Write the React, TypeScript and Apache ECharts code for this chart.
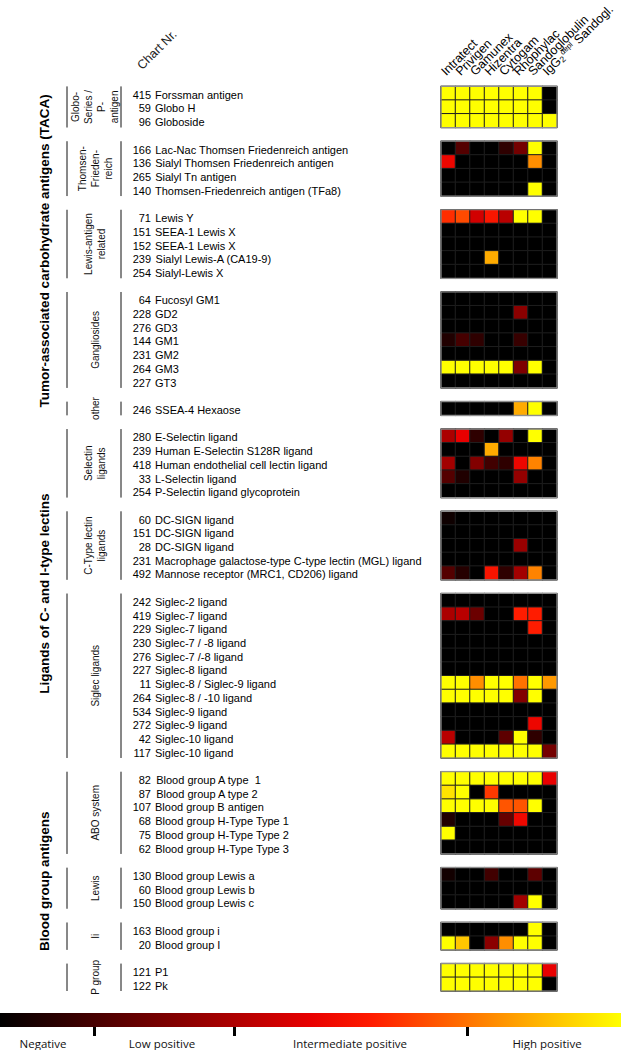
import { useEffect, useRef } from 'react';
import * as echarts from 'echarts';

const antibodies = ['Intratect', 'Privigen', 'Gamunex', 'Hizentra', 'Cytogam', 'Rhophylac', 'Sandoglobulin', 'IgG2 depl Sandogl.'];

const chartNr = [
  415, 59, 96,
  166, 136, 265, 140,
  71, 151, 152, 239, 254,
  64, 228, 276, 144, 231, 264, 227,
  246,
  280, 239, 418, 33, 254,
  60, 151, 28, 231, 492,
  242, 419, 229, 230, 276, 227, 11, 264, 534, 272, 42, 117,
  82, 87, 107, 68, 75, 62,
  130, 60, 150,
  163, 20,
  121, 122,
];

const antigenNames = [
  'Forssman antigen', 'Globo H', 'Globoside',
  'Lac-Nac Thomsen Friedenreich antigen', 'Sialyl Thomsen Friedenreich antigen', 'Sialyl Tn antigen', 'Thomsen-Friedenreich antigen (TFa8)',
  'Lewis Y', 'SEEA-1 Lewis X', 'SEEA-1 Lewis X', 'Sialyl Lewis-A (CA19-9)', 'Sialyl-Lewis X',
  'Fucosyl GM1', 'GD2', 'GD3', 'GM1', 'GM2', 'GM3', 'GT3',
  'SSEA-4 Hexaose',
  'E-Selectin ligand', 'Human E-Selectin S128R ligand', 'Human endothelial cell lectin ligand', 'L-Selectin ligand', 'P-Selectin ligand glycoprotein',
  'DC-SIGN ligand', 'DC-SIGN ligand', 'DC-SIGN ligand', 'Macrophage galactose-type C-type lectin (MGL) ligand', 'Mannose receptor (MRC1, CD206) ligand',
  'Siglec-2 ligand', 'Siglec-7 ligand', 'Siglec-7 ligand', 'Siglec-7 / -8 ligand', 'Siglec-7 /-8 ligand', 'Siglec-8 ligand', 'Siglec-8 / Siglec-9 ligand', 'Siglec-8 / -10 ligand', 'Siglec-9 ligand', 'Siglec-9 ligand', 'Siglec-10 ligand', 'Siglec-10 ligand',
  'Blood group A type  1', 'Blood group A type 2', 'Blood group B antigen', 'Blood group H-Type Type 1', 'Blood group H-Type Type 2', 'Blood group H-Type Type 3',
  'Blood group Lewis a', 'Blood group Lewis b', 'Blood group Lewis c',
  'Blood group i', 'Blood group I',
  'P1', 'Pk',
];

const subgroupSizes = [3, 4, 5, 7, 1, 5, 5, 12, 6, 3, 2, 2];
const subgroupLabels = [
  'Globo-\nSeries /\nP-\nantigen', 'Thomsen-\nFrieden-\nreich', 'Lewis-antigen\nrelated', 'Gangliosides', 'other',
  'Selectin\nligands', 'C-Type lectin\nligands', 'Siglec ligands',
  'ABO system', 'Lewis', 'Ii', 'P group',
];
const mainGroupLabels = ['Tumor-associated carbohydrate antigens (TACA)', 'Ligands of C- and I-type lectins', 'Blood group antigens'];
const mainGroupSpans = [5, 3, 4];

// reactivity 0 (negative) .. 1 (high positive), columns in antibody order
const reactivity = [
  [1, 1, 1, 1, 1, 1, 1, 0],
  [1, 1, 1, 1, 1, 1, 1, 0],
  [1, 1, 1, 1, 1, 1, 1, 1],

  [0, 0.18, 0, 0, 0.1, 0.25, 1, 0],
  [0.52, 0, 0, 0, 0, 0, 0.8, 0],
  [0, 0, 0, 0, 0, 0, 0, 0],
  [0, 0, 0, 0, 0, 0, 1, 0],

  [0.63, 0.68, 0.45, 0.58, 0.4, 1, 1, 0],
  [0, 0, 0, 0, 0, 0, 0, 0],
  [0, 0, 0, 0, 0, 0, 0, 0],
  [0, 0, 0, 0.85, 0, 0, 0, 0],
  [0, 0, 0, 0, 0, 0, 0, 0],

  [0, 0, 0, 0, 0, 0, 0, 0],
  [0, 0, 0, 0, 0, 0.3, 0, 0],
  [0, 0, 0, 0, 0, 0, 0, 0],
  [0.07, 0.15, 0.1, 0, 0, 0.12, 0, 0],
  [0, 0, 0, 0, 0, 0, 0, 0],
  [1, 1, 1, 1, 1, 0.27, 1, 0],
  [0, 0, 0, 0, 0, 0, 0, 0],

  [0, 0, 0, 0, 0, 0.85, 1, 0],

  [0.37, 0.5, 0.1, 0, 0.32, 0, 1, 0],
  [0, 0, 0, 0.85, 0, 0, 0, 0],
  [0.35, 0, 0.28, 0.14, 0.1, 0.52, 0.78, 0],
  [0.18, 0.07, 0, 0, 0, 0.32, 0, 0],
  [0, 0, 0, 0, 0, 0, 0, 0],

  [0.03, 0, 0, 0, 0, 0, 0, 0],
  [0, 0, 0, 0, 0, 0, 0, 0],
  [0, 0, 0, 0, 0, 0.33, 0, 0],
  [0, 0, 0, 0, 0, 0, 0, 0],
  [0.18, 0.08, 0, 0.57, 0.1, 0.35, 0.78, 0],

  [0, 0, 0, 0, 0, 0, 0, 0],
  [0.37, 0.4, 0.23, 0, 0, 0.6, 0.6, 0],
  [0, 0, 0, 0, 0, 0, 0.6, 0],
  [0, 0, 0, 0, 0, 0, 0, 0],
  [0, 0, 0, 0, 0, 0, 0, 0],
  [0, 0, 0, 0, 0, 0, 0, 0],
  [1, 1, 0.8, 1, 1, 0.75, 1, 0.82],
  [1, 1, 1, 1, 1, 0.28, 1, 0],
  [0, 0, 0, 0, 0, 0, 0, 0],
  [0, 0, 0, 0, 0, 0, 0.52, 0],
  [0.4, 0, 0, 0, 0.2, 1, 0.1, 0],
  [1, 1, 1, 1, 1, 1, 1, 0.25],

  [1, 1, 1, 1, 1, 1, 1, 0.5],
  [0.95, 1, 0, 0.65, 0, 0, 0, 0],
  [1, 1, 1, 1, 0.7, 0.7, 1, 0],
  [0.07, 0, 0, 0, 0.22, 0.53, 0, 0],
  [1, 0, 0, 0, 0, 0, 0, 0],
  [0, 0, 0, 0, 0, 0, 0, 0],

  [0.04, 0, 0, 0.14, 0, 0, 0.2, 0],
  [0, 0, 0, 0, 0, 0, 0, 0],
  [0, 0, 0, 0, 0, 0.35, 1, 0],

  [0, 0, 0, 0, 0, 0, 1, 0],
  [1, 0.9, 0, 0.3, 0.8, 1, 1, 0],

  [1, 1, 1, 1, 1, 1, 1, 0.5],
  [1, 1, 1, 1, 1, 1, 1, 0],
];

const heatColors = ['#000000', '#2e0000', '#5d0000', '#8b0000', '#b90000', '#e80000', '#ff1c00', '#ff5500', '#ff8e00', '#ffc700', '#ffff00'];
const legendLabels = ['Negative', 'Low positive', 'Intermediate positive', 'High positive'];

const FONT = '"Liberation Sans", Arial, sans-serif';

export default function App() {
  const ref = useRef<HTMLDivElement>(null);

  useEffect(() => {
    document.body.style.margin = '0';
    const chart = echarts.init(ref.current!, null, { renderer: 'svg' });

    const yCats: string[] = [];
    const rowNr: (number | null)[] = [];
    const rowName: string[] = [];
    const heatData: number[][] = [];
    const subRanges: number[][] = [];
    let k = 0;
    subgroupSizes.forEach((n, g) => {
      const start = yCats.length;
      for (let i = 0; i < n; i++) {
        const r = yCats.length;
        yCats.push(`${chartNr[k]} ${antigenNames[k]}`);
        rowNr.push(chartNr[k]);
        rowName.push(antigenNames[k]);
        reactivity[k].forEach((v, c) => heatData.push([c, r, v]));
        k++;
      }
      subRanges.push([0, start, yCats.length - 1, g]);
      if (g < subgroupSizes.length - 1) {
        yCats.push(`gap${g}`);
        rowNr.push(null);
        rowName.push('');
      }
    });
    const mainRanges: number[][] = [];
    let s = 0;
    mainGroupSpans.forEach((n, m) => {
      mainRanges.push([0, subRanges[s][1], subRanges[s + n - 1][2], m]);
      s += n;
    });

    const nCols = antibodies.length;

    chart.setOption({
      animation: false,
      grid: { left: 441, top: 82, width: 116, height: 909 },
      xAxis: {
        type: 'category',
        data: antibodies,
        position: 'top',
        axisLine: { show: false },
        axisTick: { show: false },
        splitLine: { show: false },
        axisLabel: {
          interval: 0,
          rotate: -45,
          margin: 8,
          align: 'left',
          verticalAlign: 'bottom',
          lineHeight: 14,
          formatter: (v: string) =>
            v.startsWith('IgG2') ? '{a|IgG}{sub|2}{sup|depl}{a| Sandogl.}' : `{a|${v}}`,
          rich: {
            a: { fontSize: 12.5, fontFamily: FONT, color: '#000' },
            sub: { fontSize: 8.5, fontFamily: FONT, color: '#000', padding: [5, 0, 0, 0] },
            sup: { fontSize: 7.5, fontFamily: FONT, color: '#000', padding: [0, 1, 5, 1] },
          },
        },
      },
      yAxis: {
        type: 'category',
        data: yCats,
        inverse: true,
        axisLine: { show: false },
        axisTick: { show: false },
        splitLine: { show: false },
        axisLabel: {
          interval: 0,
          align: 'left',
          margin: 310,
          formatter: (_v: string, i: number) => (rowNr[i] == null ? '' : `{n|${rowNr[i]}}{t|${rowName[i]}}`),
          rich: {
            n: { width: 20, align: 'right', padding: [3, 0, 0, 0], fontSize: 11, fontFamily: FONT, color: '#000' },
            t: { align: 'right', padding: [3, 0, 0, 4], fontSize: 11, fontFamily: FONT, color: '#000' },
          },
        },
      },
      visualMap: {
        show: false,
        type: 'continuous',
        min: 0,
        max: 1,
        seriesIndex: 0,
        inRange: { color: heatColors },
      },
      series: [
        {
          type: 'heatmap',
          data: heatData,
          silent: true,
          itemStyle: { borderColor: '#1e1e1e', borderWidth: 1 },
          emphasis: { disabled: true },
        },
        {
          type: 'custom',
          silent: true,
          z: 5,
          data: subRanges,
          encode: { x: 0, y: [1, 2] },
          renderItem: (_p: any, api: any) => {
            const st = api.value(1);
            const en = api.value(2);
            const g = api.value(3);
            const c0 = api.coord([0, st]);
            const c1 = api.coord([0, en]);
            const sz = api.size([1, 1]);
            const x0 = c0[0] - sz[0] / 2;
            const y0 = c0[1] - sz[1] / 2;
            const y1 = c1[1] + sz[1] / 2;
            return {
              type: 'group',
              children: [
                {
                  type: 'rect',
                  shape: { x: x0, y: y0, width: sz[0] * nCols, height: y1 - y0 },
                  style: { fill: 'none', stroke: '#8f8f8f', lineWidth: 1.2 },
                },
                { type: 'line', shape: { x1: 67, y1: y0, x2: 67, y2: y1 }, style: { stroke: '#111', lineWidth: 1 } },
                { type: 'line', shape: { x1: 121, y1: y0, x2: 121, y2: y1 }, style: { stroke: '#111', lineWidth: 1 } },
                {
                  type: 'text',
                  x: 95,
                  y: (y0 + y1) / 2,
                  rotation: Math.PI / 2,
                  style: {
                    text: subgroupLabels[g],
                    align: 'center',
                    verticalAlign: 'middle',
                    font: `10px ${FONT}`,
                    lineHeight: 13,
                    fill: '#111',
                  },
                },
              ],
            };
          },
        },
        {
          type: 'custom',
          silent: true,
          data: mainRanges,
          encode: { x: 0, y: [1, 2] },
          renderItem: (_p: any, api: any) => {
            const c0 = api.coord([0, api.value(1)]);
            const c1 = api.coord([0, api.value(2)]);
            const m = api.value(3);
            return {
              type: 'text',
              x: 44,
              y: (c0[1] + c1[1]) / 2,
              rotation: Math.PI / 2,
              style: {
                text: mainGroupLabels[m],
                align: 'center',
                verticalAlign: 'middle',
                font: `bold 13.5px ${FONT}`,
                fill: '#000',
              },
            };
          },
        },
      ],
      graphic: [
        {
          type: 'text',
          x: 144,
          y: 72,
          rotation: Math.PI / 4,
          style: { text: 'Chart Nr.', font: `12.5px ${FONT}`, fill: '#222', align: 'left', verticalAlign: 'bottom' },
        },
        {
          type: 'rect',
          shape: { x: 0, y: 1013, width: 621, height: 14 },
          style: {
            fill: new echarts.graphic.LinearGradient(
              0, 0, 1, 0,
              heatColors.map((c, i) => ({ offset: i / (heatColors.length - 1), color: c })),
            ),
          },
        },
        { type: 'rect', shape: { x: 93, y: 1027, width: 3, height: 9 }, style: { fill: '#000' } },
        { type: 'rect', shape: { x: 233, y: 1027, width: 3, height: 9 }, style: { fill: '#000' } },
        { type: 'rect', shape: { x: 466, y: 1027, width: 3, height: 9 }, style: { fill: '#000' } },
        ...legendLabels.map((t, i) => ({
          type: 'text',
          x: [43, 162, 350, 547][i],
          y: 1043,
          style: { text: t, font: `11.5px "Open Sans", ${FONT}`, fill: '#111', align: 'center', verticalAlign: 'middle' },
        })),
      ],
    });

    return () => chart.dispose();
  }, []);

  return <div ref={ref} style={{ width: 621, height: 1050 }} />;
}
